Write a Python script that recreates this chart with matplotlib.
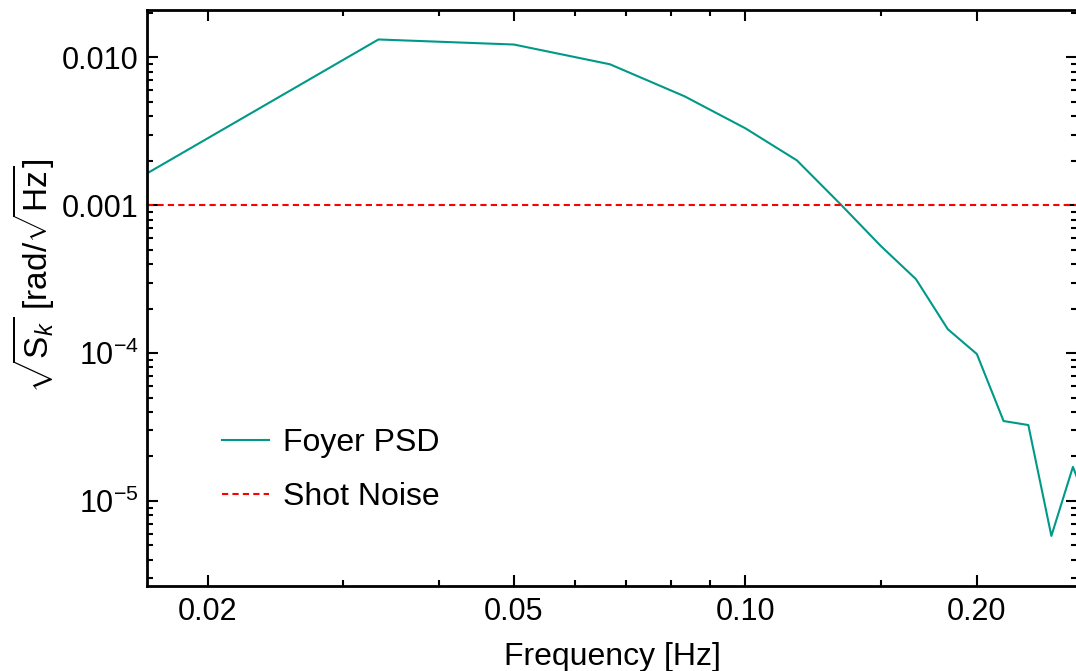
import numpy as np
import matplotlib
matplotlib.use("Agg")
import matplotlib.pyplot as plt
from matplotlib.ticker import FixedLocator, FixedFormatter, NullFormatter

plt.rcParams['font.family'] = ['Liberation Sans', 'DejaVu Sans']
plt.rcParams['mathtext.fontset'] = 'custom'
plt.rcParams['mathtext.rm'] = 'Liberation Sans'
plt.rcParams['mathtext.it'] = 'Liberation Sans:italic'
plt.rcParams['mathtext.bf'] = 'Liberation Sans:bold'

# frequency bins (1/60 Hz spacing)
freq = [1/60, 2/60, 3/60, 4/60, 5/60, 6/60, 7/60, 8/60, 9/60, 10/60,
        11/60, 12/60, 13/60, 14/60, 15/60, 16/60, 17/60]
psd = [1.64e-3, 1.32e-2, 1.22e-2, 8.97e-3, 5.45e-3, 3.31e-3, 2.01e-3, 1.0e-3,
       5.3e-4, 3.16e-4, 1.45e-4, 9.85e-5, 3.47e-5, 3.26e-5, 5.8e-6, 1.7e-5, 7.5e-6]
shot_noise = 1e-3

x_major = [0.02, 0.05, 0.10, 0.20]
x_major_labels = ['0.02', '0.05', '0.10', '0.20']
x_minor = [0.03, 0.04, 0.06, 0.07, 0.08, 0.09, 0.15]
y_major = [1e-5, 1e-4, 1e-3, 1e-2]
y_major_labels = [r'$10^{-5}$', r'$10^{-4}$', '0.001', '0.010']

fig = plt.figure(figsize=(10.76, 6.71), dpi=100)
ax = fig.add_axes([0.1366, 0.1267, 0.8644, 0.858])

ax.plot(freq, psd, color='#009988', lw=1.5, label='Foyer PSD')
ax.axhline(shot_noise, color='red', ls='--', lw=1.5, dashes=(3, 2), label='Shot Noise')

ax.set_xscale('log')
ax.set_yscale('log')
ax.set_xlim(1/60, 0.270)
ax.set_ylim(2.66e-6, 2.08e-2)

ax.xaxis.set_major_locator(FixedLocator(x_major))
ax.xaxis.set_major_formatter(FixedFormatter(x_major_labels))
ax.xaxis.set_minor_locator(FixedLocator(x_minor))
ax.xaxis.set_minor_formatter(NullFormatter())
ax.yaxis.set_major_locator(FixedLocator(y_major))
ax.yaxis.set_major_formatter(FixedFormatter(y_major_labels))

ax.tick_params(which='both', direction='in', top=True, right=True, labelsize=22, width=1.5)
ax.tick_params(which='major', length=8)
ax.tick_params(which='minor', length=4)
ax.tick_params(axis='x', which='major', pad=8)
ax.tick_params(axis='y', which='major', pad=6)
for s in ax.spines.values():
    s.set_linewidth(2)

ax.set_xlabel('Frequency [Hz]', fontsize=23, labelpad=11)
ax.set_ylabel(r'$\sqrt{\mathrm{S}_k}$ [rad/$\sqrt{\mathrm{Hz}}$]', fontsize=24)
ax.yaxis.set_label_coords(-0.097, 0.54)

ax.legend(loc='lower left', bbox_to_anchor=(0.05, 0.078), frameon=False, fontsize=23,
          handlelength=1.45, handletextpad=0.45, labelspacing=0.75)

fig.savefig('out.png', dpi=100)
